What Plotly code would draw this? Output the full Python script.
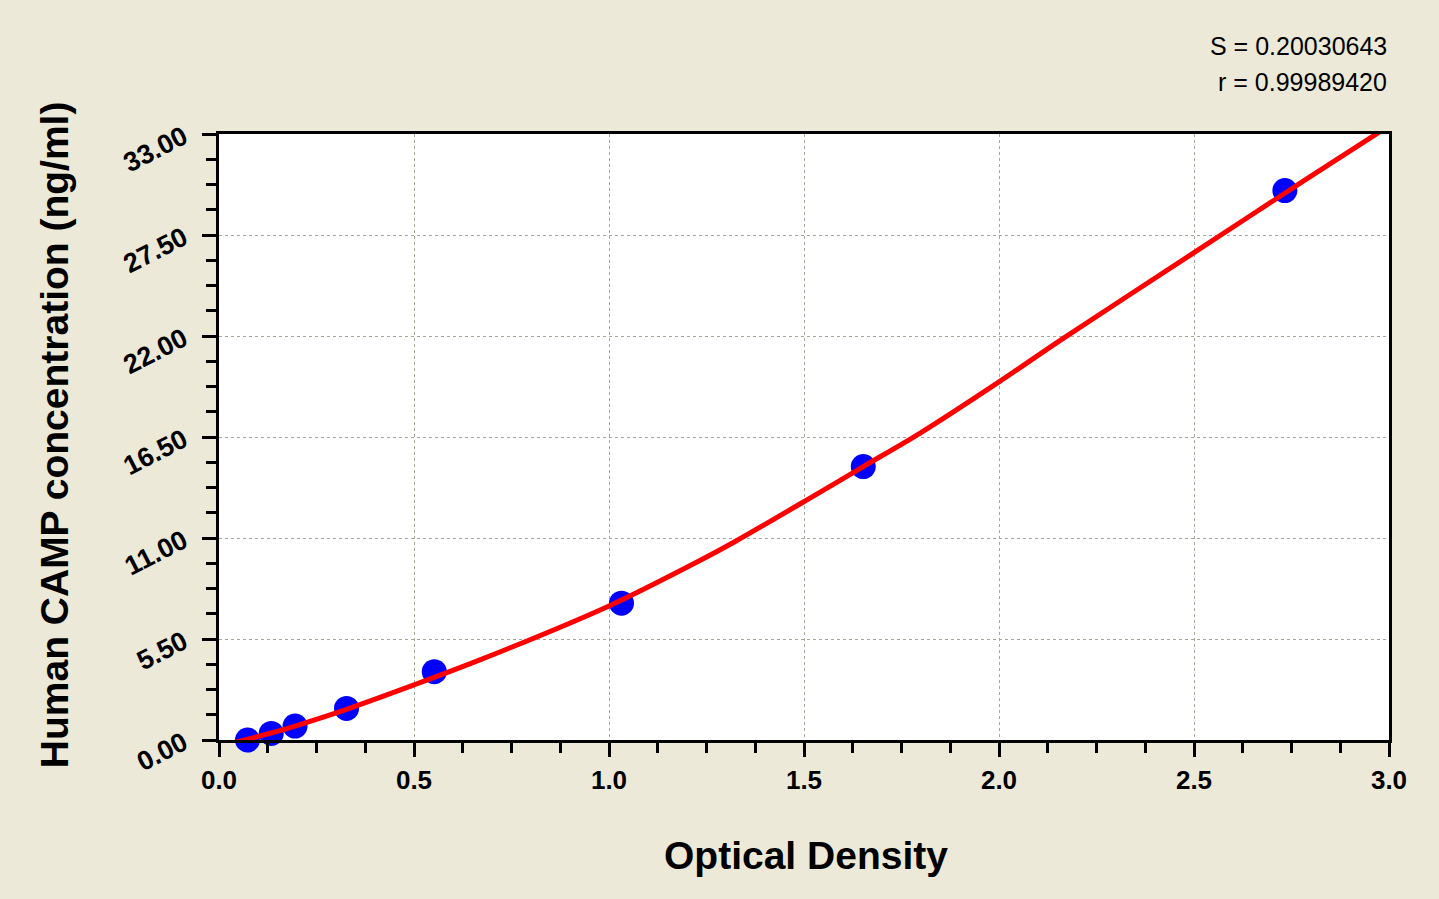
import plotly.graph_objects as go

# standard points (OD vs concentration)
od_values = [0.073, 0.134, 0.195, 0.327, 0.552, 1.032, 1.652, 2.733]
conc_values = [0.0, 0.36, 0.76, 1.72, 3.72, 7.45, 14.89, 29.92]

# fitted curve
curve_od = [0.031, 0.134, 0.195, 0.327, 0.5, 0.669, 1.0, 1.233, 1.327,
            1.5, 1.652, 1.797, 2.0, 2.156, 2.5, 2.785, 2.977]
curve_conc = [-0.18, 0.38, 0.76, 1.67, 3.0, 4.36, 7.30, 9.77, 10.85,
              12.98, 14.89, 16.70, 19.5, 21.75, 26.54, 30.5, 33.13]

y_ticks = [0, 5.5, 11, 16.5, 22, 27.5, 33]
y_tick_labels = ["0.00", "5.50", "11.00", "16.50", "22.00", "27.50", "33.00"]
x_ticks = [0.0, 0.5, 1.0, 1.5, 2.0, 2.5, 3.0]
x_tick_labels = ["0.0", "0.5", "1.0", "1.5", "2.0", "2.5", "3.0"]

stats = ["S = 0.20030643", "r = 0.99989420"]

BG = "#ECE9D8"
FONT = "Liberation Sans"

fig = go.Figure()

fig.add_trace(go.Scatter(
    x=od_values, y=conc_values, mode="markers",
    marker=dict(color="#0000FF", size=25, line=dict(width=0)),
    cliponaxis=False, showlegend=False,
))
fig.add_trace(go.Scatter(
    x=curve_od, y=curve_conc, mode="lines",
    line=dict(color="#FF0000", width=5, shape="spline", smoothing=0.8),
    cliponaxis=False, showlegend=False,
))

axis_common = dict(
    showline=True, linecolor="black", linewidth=3, mirror=True,
    ticks="outside", tickcolor="black", tickwidth=3, ticklen=14,
    showgrid=True, gridcolor="#A8A597", gridwidth=1, griddash="3px,3px",
    zeroline=False,
    tickfont=dict(family=FONT, size=26, color="black", weight="bold"),
)

fig.update_xaxes(
    **axis_common,
    range=[0, 3.0], tickmode="array", tickvals=x_ticks, ticktext=x_tick_labels,
    minor=dict(dtick=0.125, ticks="outside", ticklen=10, tickwidth=3,
               tickcolor="black", showgrid=False),
    ticklabelstandoff=1,
)
fig.update_yaxes(
    **axis_common,
    range=[0, 33], tickmode="array", tickvals=y_ticks, ticktext=y_tick_labels,
    tickangle=-27,
    minor=dict(dtick=1.375, ticks="outside", ticklen=10, tickwidth=3,
               tickcolor="black", showgrid=False),
    ticklabelstandoff=13,
)
fig.update_yaxes(tickfont_size=27)

# axis titles
fig.add_annotation(
    text="Optical Density", xref="paper", yref="paper",
    x=0.502, y=-0.19, xanchor="center", yanchor="middle", showarrow=False,
    font=dict(family=FONT, size=39, color="black", weight="bold"),
)
fig.add_annotation(
    text="Human CAMP concentration (ng/ml)", xref="paper", yref="paper",
    x=-0.141, y=0.503, xanchor="center", yanchor="middle", showarrow=False,
    textangle=-90,
    font=dict(family=FONT, size=39, color="black", weight="bold"),
)

# fit statistics
for i, s in enumerate(stats):
    fig.add_annotation(
        text=s, xref="paper", yref="paper",
        x=1.0, y=1.145 - i * 0.06, xanchor="right", yanchor="middle",
        showarrow=False,
        font=dict(family=FONT, size=25, color="black"),
    )

fig.update_layout(
    width=1439, height=899,
    paper_bgcolor=BG, plot_bgcolor="white",
    margin=dict(l=219, r=50, t=134, b=159),
)

# drop the page's default body margin so the figure sits at 0,0
fig.write_html(
    "out.html",
    config={"displayModeBar": False},
    post_script="document.body.style.margin='0';",
)
